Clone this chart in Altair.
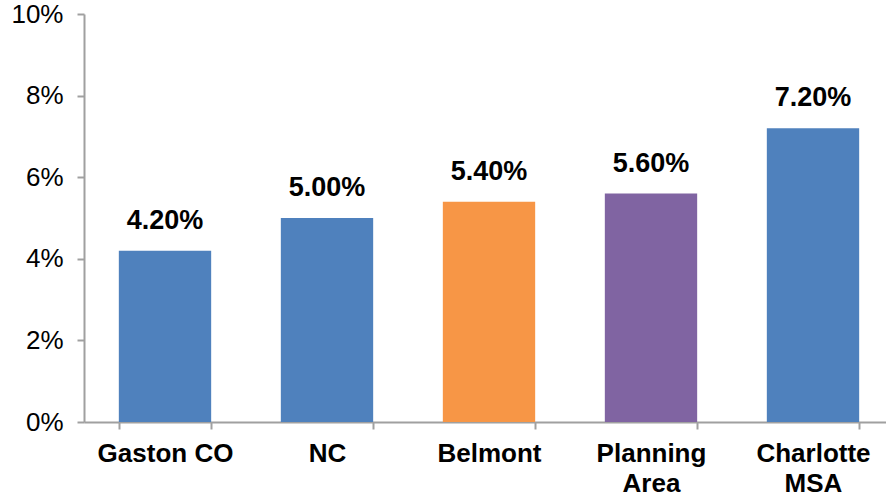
import altair as alt
import pandas as pd

categories = ["Gaston CO", "NC", "Belmont", "Planning Area", "Charlotte MSA"]
values = [0.042, 0.050, 0.054, 0.056, 0.072]
colors = ["#4F81BD", "#4F81BD", "#F79646", "#8064A2", "#4F81BD"]

df = pd.DataFrame({"cat": categories, "val": values})

FONT = "Liberation Sans"

x = alt.X(
    "cat:N",
    sort=categories,
    title=None,
    scale=alt.Scale(range=[0, 810], paddingInner=0.43, paddingOuter=0.215),
    axis=alt.Axis(
        labelAngle=0,
        labelFont=FONT,
        labelFontSize=26,
        labelFontWeight="bold",
        labelColor="#000000",
        labelExpr="datum.label == 'Gaston CO' ? datum.label : split(datum.label, ' ')",
        labelLineHeight=30,
        labelPadding=11,
        labelBaseline="top",
        tickBand="extent",
        tickSize=7,
        tickColor="#A0A0A0",
        tickWidth=2,
        domainColor="#A0A0A0",
        domainWidth=2,
    ),
)

y = alt.Y(
    "val:Q",
    title=None,
    scale=alt.Scale(domain=[0, 0.10], nice=False),
    axis=alt.Axis(
        values=[0, 0.02, 0.04, 0.06, 0.08, 0.10],
        format=".0%",
        labelFont=FONT,
        labelFontSize=26,
        labelColor="#000000",
        labelPadding=14,
        tickSize=7,
        tickColor="#A0A0A0",
        tickWidth=2,
        domainColor="#A0A0A0",
        domainWidth=2,
        grid=False,
    ),
)

bars = alt.Chart(df).mark_bar().encode(
    x=x,
    y=y,
    color=alt.Color("cat:N", scale=alt.Scale(domain=categories, range=colors), legend=None),
)

labels = alt.Chart(df).mark_text(
    font=FONT, fontSize=27, fontWeight="bold", color="#000000",
    baseline="alphabetic", dy=-22,
).encode(
    x=alt.X("cat:N", sort=categories),
    y="val:Q",
    text=alt.Text("val:Q", format=".2%"),
)

chart = (
    alt.layer(bars, labels)
    .properties(
        width=802,
        height=408,
        autosize=alt.AutoSizeParams(type="none"),
        padding={"left": 84, "top": 14, "right": 0, "bottom": 75},
        background="#FFFFFF",
    )
    .configure_view(stroke=None)
)

chart.save("out.html", embed_options={"renderer": "svg", "actions": False})
